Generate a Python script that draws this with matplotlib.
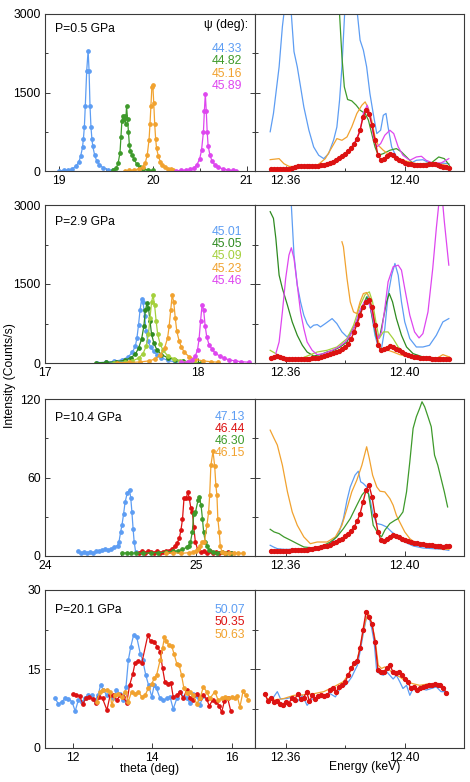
import numpy as np
import matplotlib.pyplot as plt

plt.rcParams['font.family'] = ['Liberation Sans', 'DejaVu Sans']

# colours
BLUE = '#5d9df3'
GREEN = '#3e9a2b'
DKGREEN = '#2e8a20'
LIME = '#a4d03c'
ORANGE = '#f1a22f'
MAGENTA = '#de46ef'
RED = '#dc1212'

# ---------------- theta scans (left column) ----------------
# P = 0.5 GPa
a05_th_4433 = [19.00, 19.05, 19.10, 19.14, 19.18, 19.21, 19.23, 19.25, 19.26, 19.27, 19.28, 19.295,
               19.31, 19.32, 19.33, 19.34, 19.35, 19.36, 19.38, 19.40, 19.43, 19.47, 19.52, 19.57]
a05_ct_4433 = [5, 10, 20, 40, 90, 170, 280, 450, 620, 850, 1250, 1920,
               2300, 1920, 1250, 850, 620, 470, 300, 200, 120, 60, 25, 10]
a05_th_4482 = [19.58, 19.61, 19.63, 19.65, 19.66, 19.67, 19.68, 19.69, 19.70, 19.71, 19.72,
               19.73, 19.74, 19.75, 19.76, 19.78, 19.80, 19.83, 19.86, 19.90, 19.95, 20.00]
a05_ct_4482 = [20, 60, 150, 350, 650, 950, 1050, 1000, 1050, 900, 1240,
               1000, 750, 500, 380, 300, 220, 130, 70, 40, 20, 10]
a05_th_4516 = [19.70, 19.75, 19.80, 19.85, 19.89, 19.92, 19.94, 19.96, 19.97, 19.98, 19.99, 20.00,
               20.01, 20.02, 20.03, 20.04, 20.06, 20.08, 20.10, 20.13, 20.16, 20.19, 20.22]
a05_ct_4516 = [5, 10, 20, 40, 80, 160, 300, 600, 900, 1250, 1600, 1650,
               1300, 900, 620, 430, 280, 180, 110, 70, 45, 30, 15]
a05_th_4589 = [20.25, 20.30, 20.35, 20.40, 20.44, 20.47, 20.50, 20.52, 20.54, 20.55, 20.56,
               20.57, 20.58, 20.59, 20.61, 20.63, 20.66, 20.70, 20.75, 20.80, 20.85, 20.89]
a05_ct_4589 = [5, 10, 20, 35, 60, 120, 230, 400, 750, 1150, 1470,
               1150, 750, 480, 300, 200, 120, 70, 40, 20, 10, 5]

# P = 2.9 GPa
a29_th_4501 = [17.34, 17.40, 17.45, 17.50, 17.54, 17.57, 17.59, 17.60, 17.61, 17.62, 17.63,
               17.64, 17.65, 17.66, 17.67, 17.69, 17.71, 17.73, 17.76, 17.80, 17.85]
a29_ct_4501 = [5, 15, 30, 60, 110, 200, 330, 480, 720, 1000, 1210,
               1150, 900, 600, 420, 300, 220, 160, 100, 50, 20]
a29_th_4505 = [17.33, 17.40, 17.46, 17.52, 17.56, 17.59, 17.61, 17.63, 17.645, 17.655, 17.665,
               17.675, 17.685, 17.695, 17.71, 17.73, 17.76, 17.80, 17.85, 17.90, 17.95, 18.02]
a29_ct_4505 = [5, 10, 25, 50, 100, 170, 280, 450, 700, 1000, 1130,
               1040, 800, 550, 380, 250, 160, 100, 60, 35, 20, 8]
a29_th_4509 = [17.45, 17.52, 17.57, 17.61, 17.64, 17.66, 17.675, 17.685, 17.695, 17.705,
               17.715, 17.725, 17.735, 17.75, 17.77, 17.80, 17.84, 17.88, 17.93, 17.98]
a29_ct_4509 = [5, 15, 40, 90, 180, 320, 550, 850, 1150, 1290,
               1100, 800, 550, 370, 240, 140, 80, 40, 20, 8]
a29_th_4523 = [17.47, 17.55, 17.62, 17.68, 17.72, 17.75, 17.78, 17.80, 17.81, 17.82, 17.83,
               17.84, 17.85, 17.86, 17.875, 17.89, 17.91, 17.94, 17.98, 18.03, 18.08, 18.13]
a29_ct_4523 = [5, 10, 20, 40, 80, 150, 280, 480, 700, 1000, 1300,
               1150, 850, 600, 420, 300, 200, 120, 70, 40, 25, 15]
a29_th_4546 = [17.89, 17.93, 17.96, 17.98, 17.995, 18.005, 18.015, 18.025, 18.035, 18.045,
               18.055, 18.07, 18.09, 18.11, 18.14, 18.17, 18.20, 18.24, 18.28, 18.33]
a29_ct_4546 = [10, 25, 60, 130, 250, 450, 800, 1110, 1000, 700,
               500, 350, 260, 190, 130, 90, 60, 40, 25, 15]

# P = 10.4 GPa
a104_th_4713 = [24.22, 24.24, 24.26, 24.28, 24.30, 24.32, 24.34, 24.36, 24.38, 24.40, 24.42, 24.44, 24.46,
                24.48, 24.49, 24.50, 24.51, 24.52, 24.53, 24.545, 24.56, 24.568, 24.575, 24.583, 24.59, 24.60]
a104_ct_4713 = [3.5, 2.5, 3.0, 2.5, 3.0, 2.5, 3.5, 4.0, 4.5, 5.5, 4.5, 5.5, 7.0,
                8.0, 11, 18, 24, 32, 41, 48.5, 50.3, 44, 34, 21, 11, 3]
a104_th_4644 = [24.62, 24.64, 24.66, 24.68, 24.70, 24.72, 24.74, 24.76, 24.78, 24.80, 24.82, 24.84, 24.86,
                24.875, 24.89, 24.90, 24.91, 24.92, 24.935, 24.945, 24.955, 24.965, 24.975, 24.985, 24.995,
                25.01, 25.03, 25.05, 25.07, 25.09, 25.11, 25.13, 25.15, 25.17, 25.19, 25.21, 25.23]
a104_ct_4644 = [2.5, 3.5, 2.5, 3.5, 3.0, 2.0, 3.5, 2.5, 3.0, 4.0, 3.5, 5.5, 7.5,
                10, 14, 20, 28, 44, 44, 49, 44, 37, 34, 22, 11,
                5, 3, 3.5, 2.5, 3.5, 2.5, 3.0, 2.5, 3.0, 2.5, 3.0, 2.0]
a104_th_4630 = [24.51, 24.54, 24.57, 24.60, 24.65, 24.70, 24.75, 24.80, 24.85, 24.88,
                24.91, 24.94, 24.95, 24.963, 24.975, 24.985, 24.996, 25.013, 25.022, 25.033,
                25.042, 25.05, 25.061, 25.072, 25.085, 25.11, 25.14, 25.17, 25.20, 25.23]
a104_ct_4630 = [2.0, 2.5, 2.0, 2.5, 2.0, 2.5, 2.5, 3.0, 3.5, 4.0,
                5.0, 6.9, 8.0, 10.7, 18.4, 32.4, 33.7, 42.6, 45.0, 38.8,
                28.6, 18.4, 10.7, 8.0, 4.5, 3.0, 2.5, 3.0, 2.5, 2.0]
a104_th_4615 = [24.80, 24.85, 24.90, 24.95, 24.98, 25.00, 25.015, 25.028, 25.039, 25.055, 25.072,
                25.083, 25.09, 25.098, 25.112, 25.123, 25.131, 25.138, 25.144, 25.153, 25.16,
                25.171, 25.19, 25.22, 25.25, 25.28, 25.31]
a104_ct_4615 = [2.0, 2.5, 2.0, 2.5, 3.0, 3.5, 5.0, 8.0, 10.7, 10.7, 23.5,
                33.7, 46.5, 69.4, 80.0, 69.0, 54.0, 46.5, 28.6, 18.4, 8.0,
                3.0, 2.5, 2.0, 2.5, 2.0, 2.0]

# P = 20.1 GPa
a201_th_5007 = [11.56, 11.64, 11.72, 11.81, 11.89, 11.98, 12.06, 12.14, 12.23, 12.31, 12.39, 12.48,
                12.56, 12.64, 12.70, 12.77, 12.85, 12.94, 13.02, 13.10, 13.19, 13.27, 13.34, 13.40,
                13.46, 13.53, 13.61, 13.70, 13.76, 13.84, 13.91, 13.99, 14.05, 14.11, 14.20, 14.28,
                14.37, 14.45, 14.53, 14.62, 14.70, 14.79, 14.87, 14.95, 15.04, 15.12, 15.20, 15.29]
a201_ct_5007 = [9.4, 8.3, 8.8, 9.4, 9.3, 8.8, 7.0, 9.1, 8.8, 9.4, 10.1, 10.0,
                9.1, 10.0, 12.0, 11.0, 10.1, 10.0, 9.4, 11.0, 10.3, 9.1, 11.6, 16.7,
                19.2, 21.4, 21.1, 17.9, 16.7, 13.8, 11.9, 9.7, 11.9, 11.3, 9.4, 9.1,
                9.4, 9.7, 7.4, 9.4, 10.7, 9.7, 9.4, 8.6, 10.3, 9.9, 8.2, 9.9]
a201_th_5035 = [12.00, 12.08, 12.17, 12.25, 12.34, 12.42, 12.50, 12.59, 12.67, 12.75, 12.86, 12.94,
                13.02, 13.11, 13.19, 13.27, 13.36, 13.43, 13.51, 13.57, 13.65, 13.74, 13.89, 13.96,
                14.05, 14.13, 14.20, 14.26, 14.32, 14.39, 14.47, 14.53, 14.62, 14.70, 14.78, 14.87,
                14.95, 15.04, 15.12, 15.20, 15.29, 15.37, 15.44, 15.52, 15.61, 15.69, 15.75, 15.82,
                15.90, 15.98]
a201_ct_5035 = [10.3, 10.1, 9.9, 8.4, 9.5, 9.7, 9.3, 8.6, 9.7, 9.4, 7.2, 10.0,
                10.0, 9.1, 10.0, 9.7, 8.6, 11.9, 14.0, 16.2, 16.5, 16.2, 21.4, 20.3,
                20.2, 19.2, 18.3, 15.2, 12.6, 12.2, 12.4, 9.7, 10.0, 10.7, 9.4, 11.0,
                9.5, 9.1, 10.3, 9.5, 10.0, 9.3, 8.0, 9.1, 8.8, 8.0, 6.8, 8.9,
                9.5, 7.0]
a201_th_5063 = [12.60, 12.69, 12.77, 12.86, 12.94, 12.98, 13.06, 13.15, 13.23, 13.32, 13.40, 13.48,
                13.57, 13.65, 13.74, 13.82, 13.90, 13.99, 14.05, 14.11, 14.20, 14.26, 14.31, 14.36,
                14.42, 14.49, 14.55, 14.62, 14.68, 14.74, 14.80, 14.87, 14.95, 15.04, 15.12, 15.20,
                15.29, 15.37, 15.45, 15.58, 15.66, 15.75, 15.83, 15.92, 16.00, 16.08, 16.14, 16.21,
                16.29, 16.36, 16.42]
a201_ct_5063 = [8.8, 10.7, 11.0, 11.0, 10.7, 8.1, 10.0, 10.3, 9.7, 10.7, 8.8, 10.7,
                10.3, 10.7, 9.7, 10.0, 11.3, 12.2, 13.2, 13.8, 16.7, 18.9, 21.1, 20.3,
                19.5, 19.4, 17.9, 16.0, 15.7, 13.8, 11.3, 10.5, 10.7, 10.0, 8.4, 9.4,
                11.6, 10.7, 9.4, 10.7, 9.1, 9.4, 9.7, 9.5, 9.7, 9.5, 9.9, 7.8,
                10.8, 10.0, 9.1]

# ---------------- energy scans (right column) ----------------
# red (with markers) on a 1 eV grid
e05_red_start = 12.355
e05_red_ct = [32, 32, 32, 32, 32, 38, 45, 57, 77, 89, 96, 96, 96, 89, 89, 96, 102, 108, 121, 134,
              153, 179, 204, 243, 281, 326, 377, 434, 511, 619, 779, 1034, 1162, 1098, 874, 587, 300,
              217, 236, 281, 319, 300, 255, 217, 185, 160, 140, 128, 121, 115, 115, 115, 121, 128,
              140, 134, 115, 96, 83, 70, 57]
e29_red_start = 12.355
e29_red_ct = [95, 108, 133, 114, 95, 82, 76, 70, 70, 70, 70, 76, 76, 82, 89, 95, 101, 114, 127, 146,
              165, 190, 209, 235, 260, 298, 368, 463, 590, 748, 907, 1065, 1160, 1192, 1065, 717, 336,
              241, 260, 292, 317, 304, 273, 241, 209, 178, 152, 133, 120, 108, 101, 95, 89, 89, 82,
              82, 82, 76, 76, 70, 70]
e104_red_start = 12.355
e104_red_ct = [3.8, 3.6, 3.8, 3.8, 4.1, 4.1, 4.1, 4.3, 4.3, 4.6, 4.6, 4.9, 4.9, 5.1, 5.6, 5.9, 6.1,
               6.6, 7.4, 7.9, 8.7, 9.7, 10.7, 12.0, 13.3, 15.3, 17.1, 19.4, 22.2, 26.6, 32.4, 41.4,
               50.3, 54.1, 45.2, 31.1, 18.4, 12.0, 11.5, 12.8, 14.6, 16.1, 15.6, 14.3, 13.3, 12.3,
               11.5, 10.7, 10.2, 9.7, 9.2, 8.9, 8.7, 8.4, 8.2, 7.9, 7.7, 7.4, 7.1, 7.7, 7.9]
e201_red_start = 12.353
e201_red_ct = [10.3, 9.0, 9.5, 8.8, 8.9, 8.4, 8.1, 8.8, 8.4, 9.4, 9.1, 10.3, 9.3, 9.5, 10.7, 8.9,
               10.0, 9.3, 9.9, 10.1, 9.9, 10.0, 11.0, 11.3, 10.7, 11.6, 12.0, 12.6, 13.8, 15.1, 16.2,
               16.5, 19.0, 22.5, 25.8, 24.8, 23.6, 20.2, 14.8, 14.5, 14.5, 15.2, 15.7, 14.5, 14.3,
               14.5, 13.8, 13.1, 12.6, 11.4, 11.6, 11.0, 11.3, 11.6, 11.8, 12.0, 11.9, 12.2, 11.9,
               12.0, 11.3, 10.5]

# P = 0.5 GPa lines
e05_blue_e = [12.3548, 12.3559, 12.3578, 12.3589, 12.3594, 12.3606, 12.3619, 12.3628, 12.3639, 12.3650,
              12.3661, 12.3678, 12.3694, 12.3711, 12.3728, 12.3744, 12.3761, 12.3772, 12.3781, 12.3789,
              12.3798, 12.3817, 12.3841, 12.3850, 12.3861, 12.3872, 12.3883, 12.3894, 12.3906, 12.3919,
              12.3928, 12.3937, 12.3944, 12.3956, 12.3972, 12.3994, 12.4017, 12.4039, 12.4061, 12.4083,
              12.4106, 12.4128, 12.4148]
e05_blue_ct = [750, 1100, 1990, 2760, 3000, 3600, 3000, 2280, 1990, 1610,
               1225, 780, 460, 300, 236, 330, 590, 840, 1350, 1990,
               3000, 3800, 3000, 2500, 2310, 1990, 1480, 1100, 715, 780,
               1065, 1100, 840, 460, 270, 170, 140, 205, 215, 155,
               140, 150, 140]
e05_green_e = [12.3774, 12.3781, 12.3789, 12.3797, 12.3808, 12.3822, 12.3837, 12.3850, 12.3867, 12.3878,
               12.3889, 12.3900, 12.3911, 12.3928, 12.3950, 12.3972, 12.3989, 12.4006, 12.4028, 12.4061,
               12.4089, 12.4114, 12.4133, 12.4150]
e05_green_ct = [3600, 3000, 2183, 1608, 1366, 1340, 1257, 1162, 1098, 970,
                715, 460, 300, 332, 396, 428, 364, 268, 140, 140,
                153, 268, 236, 108]
e05_orange_e = [12.3548, 12.3578, 12.3594, 12.3611, 12.3639, 12.3672, 12.3706, 12.3733, 12.3756, 12.3772,
                12.3789, 12.3806, 12.3822, 12.3839, 12.3856, 12.3867, 12.3878, 12.3889, 12.3900, 12.3911,
                12.3928, 12.3950, 12.3972, 12.3994, 12.4017, 12.4039, 12.4072, 12.4106, 12.4139, 12.4148]
e05_orange_ct = [217, 236, 140, 89, 77, 89, 108, 236, 460, 619,
                 587, 651, 843, 1098, 1257, 1321, 1194, 970, 651, 491,
                 396, 300, 236, 204, 172, 140, 140, 153, 108, 77]
e05_magenta_e = [12.3817, 12.3837, 12.3850, 12.3861, 12.3874, 12.3886, 12.3897, 12.3906, 12.3919, 12.3933,
                 12.3950, 12.3963, 12.3978, 12.3994, 12.4017, 12.4039, 12.4056, 12.4072, 12.4094, 12.4122,
                 12.4148]
e05_magenta_ct = [420, 600, 780, 1100, 1257, 1000, 587, 460, 523, 683,
                  779, 715, 460, 300, 204, 268, 281, 204, 153, 153,
                  236]

# P = 2.9 GPa lines
e29_blue_e = [12.3611, 12.3619, 12.3628, 12.3639, 12.3650, 12.3661, 12.3672, 12.3683, 12.3694, 12.3706,
              12.3717, 12.3733, 12.3756, 12.3772, 12.3789, 12.3806, 12.3817, 12.3833, 12.3850, 12.3867,
              12.3878, 12.3889, 12.3900, 12.3911, 12.3922, 12.3933, 12.3944, 12.3956, 12.3967, 12.3978,
              12.3989, 12.4000, 12.4017, 12.4039, 12.4061, 12.4083, 12.4106, 12.4128, 12.4148]
e29_blue_ct = [3600, 3000, 2048, 1478, 1160, 907, 748, 666, 717, 729,
               685, 748, 843, 748, 590, 495, 558, 717, 1002, 1160,
               1287, 907, 526, 304, 280, 653, 1287, 1668, 1890, 1668,
               1160, 780, 463, 304, 304, 336, 526, 780, 843]
e29_green_e = [12.3548, 12.3559, 12.3567, 12.3578, 12.3589, 12.3606, 12.3622, 12.3639, 12.3656, 12.3672,
               12.3694, 12.3717, 12.3739, 12.3761, 12.3783, 12.3806, 12.3822, 12.3839, 12.3856, 12.3872,
               12.3883, 12.3894, 12.3906, 12.3917, 12.3928, 12.3939, 12.3948, 12.3959, 12.3972, 12.3989,
               12.4006, 12.4028, 12.4061, 12.4106, 12.4150]
e29_green_ct = [2873, 2746, 2366, 1668, 1414, 1097, 780, 526, 336, 209,
                133, 159, 209, 241, 304, 400, 590, 780, 1034, 1256,
                1097, 780, 463, 526, 843, 1160, 1319, 1160, 843, 526,
                304, 178, 114, 95, 82]
e29_lime_e = [12.3548, 12.3567, 12.3583, 12.3606, 12.3650, 12.3706, 12.3739, 12.3772, 12.3806, 12.3828,
              12.3850, 12.3867, 12.3881, 12.3892, 12.3903, 12.3914, 12.3928, 12.3944, 12.3961, 12.3978,
              12.4000, 12.4028, 12.4072, 12.4128, 12.4150]
e29_lime_ct = [241, 178, 114, 82, 82, 209, 241, 304, 463, 717,
               1097, 1300, 1351, 1160, 780, 463, 590, 590, 463, 304,
               178, 114, 82, 82, 82]
e29_orange_e = [12.3789, 12.3794, 12.3806, 12.3817, 12.3828, 12.3839, 12.3850, 12.3861, 12.3872, 12.3883,
                12.3894, 12.3906, 12.3917, 12.3928, 12.3944, 12.3961, 12.3983, 12.4017, 12.4061, 12.4106,
                12.4128, 12.4150]
e29_orange_ct = [2302, 2207, 1605, 1160, 970, 938, 1160, 1319, 1338, 1230,
                 907, 526, 304, 241, 241, 209, 159, 114, 95, 82,
                 159, 114]
e29_magenta_e = [12.3567, 12.3578, 12.3589, 12.3600, 12.3611, 12.3619, 12.3628, 12.3639, 12.3650, 12.3661,
                 12.3672, 12.3689, 12.3706, 12.3728, 12.3756, 12.3778, 12.3800, 12.3817, 12.3833, 12.3850,
                 12.3867, 12.3878, 12.3889, 12.3900, 12.3911, 12.3922, 12.3933, 12.3944, 12.3961, 12.3978,
                 12.3989, 12.4000, 12.4017, 12.4033, 12.4048, 12.4061, 12.4078, 12.4094, 12.4106, 12.4114,
                 12.4121, 12.4128, 12.4133, 12.4148]
e29_magenta_ct = [178, 400, 970, 1605, 2048, 2188, 1985, 1478, 970, 653,
                  400, 241, 159, 178, 241, 304, 400, 526, 717, 1002,
                  1192, 1160, 970, 653, 463, 590, 1034, 1541, 1826, 1858,
                  1763, 1414, 907, 590, 476, 558, 970, 1795, 2556, 3000,
                  3200, 3000, 2683, 1858]

# P = 10.4 GPa lines
e104_blue_e = [12.3548, 12.3559, 12.3572, 12.3594, 12.3650, 12.3706, 12.3739, 12.3761, 12.3778, 12.3794,
               12.3806, 12.3817, 12.3833, 12.3844, 12.3852, 12.3861, 12.3872, 12.3883, 12.3894, 12.3906,
               12.3922, 12.3939, 12.3956, 12.3978, 12.4000, 12.4028, 12.4061, 12.4094, 12.4128, 12.4148]
e104_blue_ct = [8.2, 6.9, 5.6, 5.1, 5.1, 6.1, 8.2, 12.0, 17.1, 28.6,
                42.6, 52.8, 61.8, 64.8, 56.7, 55.4, 52.8, 43.9, 31.1, 24.8,
                24.0, 22.2, 18.4, 14.6, 10.7, 7.7, 6.1, 5.6, 5.1, 4.3]
e104_orange_e = [12.3548, 12.3561, 12.3572, 12.3589, 12.3606, 12.3622, 12.3639, 12.3661, 12.3683, 12.3706,
                 12.3739, 12.3767, 12.3789, 12.3806, 12.3822, 12.3839, 12.3856, 12.3872, 12.3881, 12.3892,
                 12.3906, 12.3917, 12.3933, 12.3950, 12.3961, 12.3972, 12.3983, 12.4000, 12.4017, 12.4039,
                 12.4061, 12.4089, 12.4117, 12.4148]
e104_orange_ct = [96.2, 89.9, 84.8, 69.4, 49.0, 33.7, 23.5, 14.6, 9.4, 10.7,
                  10.7, 14.6, 23.5, 36.3, 49.0, 58.0, 69.4, 83.5, 74.5, 61.8,
                  52.8, 49.5, 49.0, 43.9, 38.8, 31.1, 26.0, 18.4, 13.3, 9.4,
                  8.7, 6.9, 5.6, 5.1]
e104_green_e = [12.3548, 12.3561, 12.3578, 12.3594, 12.3617, 12.3639, 12.3661, 12.3694, 12.3728, 12.3750,
                12.3772, 12.3794, 12.3817, 12.3839, 12.3856, 12.3867, 12.3878, 12.3886, 12.3894, 12.3911,
                12.3922, 12.3933, 12.3950, 12.3967, 12.3978, 12.3994, 12.4006, 12.4017, 12.4028, 12.4039,
                12.4050, 12.4058, 12.4067, 12.4078, 12.4089, 12.4100, 12.4111, 12.4122, 12.4133, 12.4144]
e104_green_ct = [20.4, 18.4, 17.1, 14.6, 12.0, 9.4, 6.9, 6.1, 8.2, 10.7,
                 14.6, 20.9, 28.6, 38.8, 46.5, 49.5, 47.7, 36.3, 23.5, 17.1,
                 14.6, 19.7, 24.8, 27.3, 28.6, 33.7, 49.0, 72.0, 97.5, 106.5,
                 112.8, 117.9, 114.0, 106.5, 98.8, 77.1, 69.4, 59.2, 49.0, 37.5]

# P = 20.1 GPa lines
e201_blue_e = [12.3539, 12.3556, 12.3572, 12.3583, 12.3606, 12.3622, 12.3639, 12.3656, 12.3672, 12.3689,
               12.3706, 12.3722, 12.3750, 12.3767, 12.3783, 12.3800, 12.3811, 12.3822, 12.3833, 12.3841,
               12.3850, 12.3861, 12.3872, 12.3881, 12.3889, 12.3897, 12.3906, 12.3917, 12.3928, 12.3939,
               12.3950, 12.3961, 12.3972, 12.3983, 12.3994, 12.4006, 12.4017, 12.4028, 12.4039, 12.4056,
               12.4072, 12.4089, 12.4106, 12.4122, 12.4137]
e201_blue_ct = [9.1, 9.4, 10.7, 9.3, 9.4, 9.7, 8.8, 10.0, 8.1, 9.3,
                9.4, 10.0, 10.3, 9.7, 11.3, 11.9, 12.6, 13.5, 14.8, 15.7,
                18.3, 21.8, 24.9, 24.6, 22.7, 20.2, 14.5, 14.1, 13.8, 14.5,
                13.8, 13.1, 13.8, 12.6, 11.3, 11.9, 10.0, 11.3, 10.8, 11.3,
                11.0, 11.3, 11.6, 10.7, 10.7]
e201_orange_e = [12.3539, 12.3561, 12.3594, 12.3628, 12.3661, 12.3694, 12.3728, 12.3761, 12.3794, 12.3817,
                 12.3839, 12.3856, 12.3867, 12.3878, 12.3889, 12.3900, 12.3911, 12.3922, 12.3933, 12.3944,
                 12.3961, 12.3983, 12.4006, 12.4028, 12.4050, 12.4083, 12.4117, 12.4133]
e201_orange_ct = [9.4, 9.1, 9.4, 10.0, 10.1, 10.3, 10.7, 11.6, 12.6, 14.5,
                  16.4, 20.8, 24.0, 25.6, 23.7, 20.8, 15.7, 15.1, 15.4, 15.1,
                  14.1, 13.5, 12.6, 12.2, 11.9, 12.2, 11.9, 11.6]

# panel labels and axes
pressures = ['P=0.5 GPa', 'P=2.9 GPa', 'P=10.4 GPa', 'P=20.1 GPa']
ymax = [3000, 3000, 120, 30]
theta_lims = [(18.85, 21.09), (17.0, 18.37), (24.0, 25.39), (11.30, 16.59)]
theta_ticks = [[19, 20, 21], [17, 18], [24, 25], [12, 14, 16]]
theta_minor = [[19.5, 20.5], [17.5], [24.5], [13, 15]]
energy_lim = (12.3497, 12.4199)

rows = [
    dict(theta=[(a05_th_4433, a05_ct_4433, BLUE), (a05_th_4482, a05_ct_4482, GREEN),
                (a05_th_4516, a05_ct_4516, ORANGE), (a05_th_4589, a05_ct_4589, MAGENTA)],
         psi=[('44.33', BLUE), ('44.82', GREEN), ('45.16', ORANGE), ('45.89', MAGENTA)],
         lines=[(e05_blue_e, e05_blue_ct, BLUE), (e05_green_e, e05_green_ct, GREEN),
                (e05_orange_e, e05_orange_ct, ORANGE), (e05_magenta_e, e05_magenta_ct, MAGENTA)],
         red=(e05_red_start, e05_red_ct)),
    dict(theta=[(a29_th_4501, a29_ct_4501, BLUE), (a29_th_4505, a29_ct_4505, DKGREEN),
                (a29_th_4509, a29_ct_4509, LIME), (a29_th_4523, a29_ct_4523, ORANGE),
                (a29_th_4546, a29_ct_4546, MAGENTA)],
         psi=[('45.01', BLUE), ('45.05', DKGREEN), ('45.09', LIME), ('45.23', ORANGE), ('45.46', MAGENTA)],
         lines=[(e29_blue_e, e29_blue_ct, BLUE), (e29_green_e, e29_green_ct, DKGREEN),
                (e29_lime_e, e29_lime_ct, LIME), (e29_orange_e, e29_orange_ct, ORANGE),
                (e29_magenta_e, e29_magenta_ct, MAGENTA)],
         red=(e29_red_start, e29_red_ct)),
    dict(theta=[(a104_th_4713, a104_ct_4713, BLUE), (a104_th_4644, a104_ct_4644, RED),
                (a104_th_4630, a104_ct_4630, GREEN), (a104_th_4615, a104_ct_4615, ORANGE)],
         psi=[('47.13', BLUE), ('46.44', RED), ('46.30', GREEN), ('46.15', ORANGE)],
         lines=[(e104_blue_e, e104_blue_ct, BLUE), (e104_orange_e, e104_orange_ct, ORANGE),
                (e104_green_e, e104_green_ct, GREEN)],
         red=(e104_red_start, e104_red_ct)),
    dict(theta=[(a201_th_5007, a201_ct_5007, BLUE), (a201_th_5035, a201_ct_5035, RED),
                (a201_th_5063, a201_ct_5063, ORANGE)],
         psi=[('50.07', BLUE), ('50.35', RED), ('50.63', ORANGE)],
         lines=[(e201_blue_e, e201_blue_ct, BLUE), (e201_orange_e, e201_orange_ct, ORANGE)],
         red=(e201_red_start, e201_red_ct)),
]

# layout in pixels (figure is 470 x 782)
W, H = 470, 782
row_px = [(14, 171), (205, 363), (399, 556), (590, 748)]
psi_top = [0.777, 0.831, 0.887, 0.873]
psi_x = [0.938, 0.938, 0.952, 0.952]
p_y = [0.904, 0.894, 0.881, 0.873]
step = 0.078

fig = plt.figure(figsize=(4.7, 7.82), dpi=100)
SPINE = '#3a3a3a'
FS = 8.7


def style(ax, ym):
    for s in ax.spines.values():
        s.set_color(SPINE)
        s.set_linewidth(0.8)
    ax.set_ylim(0, ym)
    ax.set_yticks([0, ym / 2, ym])
    ax.set_yticks([ym / 4, 3 * ym / 4], minor=True)
    ax.tick_params(which='both', direction='in', color=SPINE, labelsize=FS, pad=3)
    ax.tick_params(which='major', length=3.5, width=0.7)
    ax.tick_params(which='minor', length=2.5, width=0.7)


for i, row in enumerate(rows):
    top, bot = row_px[i]
    axl = fig.add_axes([45 / W, 1 - bot / H, 210 / W, (bot - top) / H])
    axr = fig.add_axes([255 / W, 1 - bot / H, 209 / W, (bot - top) / H])

    for th, ct, c in row['theta']:
        axl.plot(th, ct, '-o', color=c, lw=0.9, ms=2.4, mec=c)
    style(axl, ymax[i])
    axl.tick_params(which='both', right=True)
    axl.set_yticklabels([f'{v:g}' for v in [0, ymax[i] / 2, ymax[i]]])
    axl.set_xlim(*theta_lims[i])
    axl.set_xticks(theta_ticks[i])
    axl.set_xticklabels([str(t) for t in theta_ticks[i]])
    axl.set_xticks(theta_minor[i], minor=True)

    axl.text(0.048, p_y[i], pressures[i], transform=axl.transAxes, fontsize=FS,
             ha='left', va='center')
    if i == 0:
        axl.text(0.967, 0.93, 'ψ (deg):', transform=axl.transAxes, fontsize=FS,
                 ha='right', va='center')
    for k, (lab, c) in enumerate(row['psi']):
        axl.text(psi_x[i], psi_top[i] - k * step, lab, transform=axl.transAxes,
                 fontsize=FS, color=c, ha='right', va='center')

    for e, ct, c in row['lines']:
        axr.plot(e, ct, '-', color=c, lw=0.9)
    start, rct = row['red']
    egrid = np.round(start + 0.001 * np.arange(len(rct)), 4)
    axr.plot(egrid, rct, '-o', color=RED, lw=1.0, ms=2.8, mec=RED, zorder=5)
    style(axr, ymax[i])
    axr.set_yticklabels([])
    axr.set_xlim(*energy_lim)
    axr.set_xticks([12.36, 12.40])
    axr.set_xticklabels(['12.36', '12.40'])
    axr.set_xticks([12.38], minor=True)

fig.text(10 / W, 0.520, 'Intensity (Counts/s)', rotation=90, ha='center', va='center', fontsize=FS)
fig.text(150 / W, 1 - 769 / H, 'theta (deg)', ha='center', va='center', fontsize=FS)
fig.text(365 / W, 1 - 767 / H, 'Energy (keV)', ha='center', va='center', fontsize=FS)

fig.savefig('out.png', dpi=100)
